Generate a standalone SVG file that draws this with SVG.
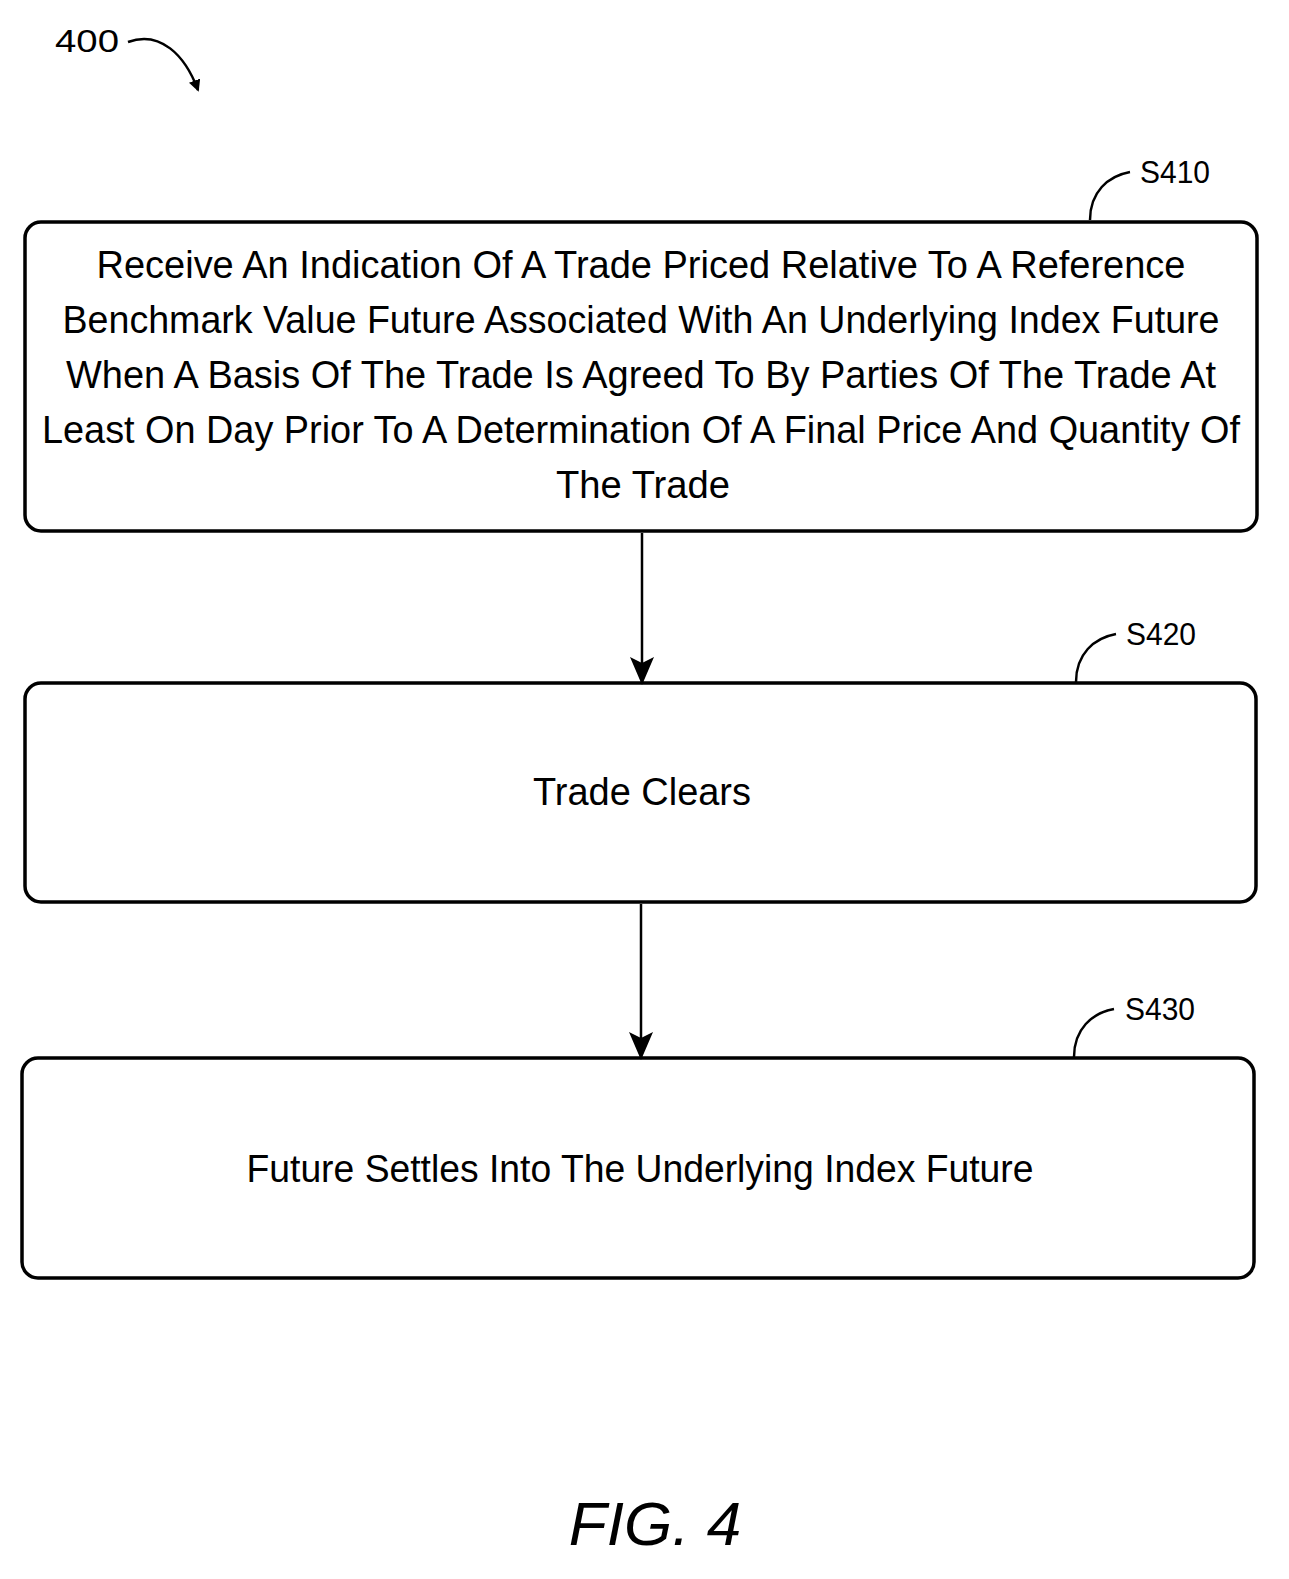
<svg xmlns="http://www.w3.org/2000/svg" width="1289" height="1579" viewBox="0 0 1289 1579">
<style>
.box{fill:#fff;stroke:#000;stroke-width:3.5}
.t{font-family:"Liberation Sans",Arial,sans-serif;font-size:38px;fill:#000}
.lbl{font-family:"Liberation Sans",Arial,sans-serif;font-size:32px;fill:#000}
.ln{fill:none;stroke:#000;stroke-width:2.5}
</style>
<defs><marker id="ah" markerWidth="12" markerHeight="12" refX="10" refY="6" orient="auto" markerUnits="userSpaceOnUse" viewBox="0 0 12 12"><path d="M0,0 L12,6 L0,12 Z" fill="#000"/></marker>
<marker id="ah2" markerWidth="28" markerHeight="28" refX="26" refY="14" orient="auto" markerUnits="userSpaceOnUse" viewBox="0 0 28 28"><path d="M0,2 L28,14 L0,26 L6,14 Z" fill="#000"/></marker></defs>
<rect width="1289" height="1579" fill="#fff"/>
<g id="ref400"><text class="lbl" x="55" y="52" textLength="64" lengthAdjust="spacingAndGlyphs">400</text><path class="ln" d="M128,42 C160,30 185,55 198,90" marker-end="url(#ah)"/></g>
<g id="S410"><rect class="box" x="25" y="222" width="1232" height="309" rx="16"/>
<text class="t" text-anchor="middle"><tspan x="641" y="278" textLength="1089" lengthAdjust="spacingAndGlyphs">Receive An Indication Of A Trade Priced Relative To A Reference</tspan><tspan x="641" y="333" textLength="1157" lengthAdjust="spacingAndGlyphs">Benchmark Value Future Associated With An Underlying Index Future</tspan><tspan x="641" y="388" textLength="1150" lengthAdjust="spacingAndGlyphs">When A Basis Of The Trade Is Agreed To By Parties Of The Trade At</tspan><tspan x="641" y="443" textLength="1198" lengthAdjust="spacingAndGlyphs">Least On Day Prior To A Determination Of A Final Price And Quantity Of</tspan><tspan x="643" y="498" textLength="174" lengthAdjust="spacingAndGlyphs">The Trade</tspan></text>
<text class="lbl" x="1140" y="183" textLength="70" lengthAdjust="spacingAndGlyphs">S410</text><path class="ln" d="M1090,220 C1090,192 1108,176 1130,172"/></g>
<g id="S420"><rect class="box" x="25" y="683" width="1231" height="219" rx="16"/>
<text class="t" x="642" y="805" text-anchor="middle" textLength="218" lengthAdjust="spacingAndGlyphs">Trade Clears</text>
<text class="lbl" x="1126" y="645" textLength="70" lengthAdjust="spacingAndGlyphs">S420</text><path class="ln" d="M1076,682 C1076,654 1094,638 1116,634"/></g>
<g id="S430"><rect class="box" x="22" y="1058" width="1232" height="220" rx="16"/>
<text class="t" x="640" y="1182" text-anchor="middle" textLength="787" lengthAdjust="spacingAndGlyphs">Future Settles Into The Underlying Index Future</text>
<text class="lbl" x="1125" y="1020" textLength="70" lengthAdjust="spacingAndGlyphs">S430</text><path class="ln" d="M1074,1057 C1074,1029 1092,1013 1114,1009"/></g>
<g id="connectors"><path class="ln" d="M642,533 L642,683" marker-end="url(#ah2)"/><path class="ln" d="M641,904 L641,1058" marker-end="url(#ah2)"/></g>
<text x="655" y="1545" text-anchor="middle" font-family="Liberation Sans,Arial,sans-serif" font-style="italic" font-size="62">FIG. 4</text>
</svg>
